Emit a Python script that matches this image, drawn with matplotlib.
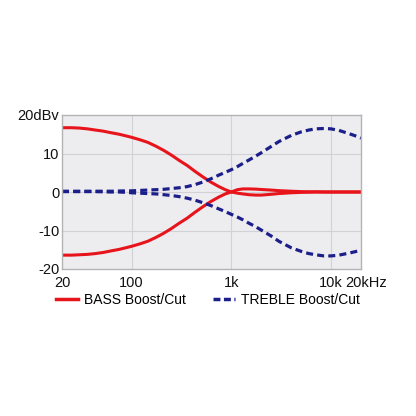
import matplotlib
matplotlib.use("Agg")
import matplotlib.pyplot as plt
from matplotlib.lines import Line2D
from matplotlib.transforms import ScaledTranslation

plt.rcParams['font.family'] = ['Liberation Sans', 'DejaVu Sans']

# frequency points (Hz)
freq = [20, 25, 30, 36, 43, 52, 62, 75, 90, 100,
        120, 145, 175, 210, 250, 300, 360, 430, 520, 620,
        750, 870, 1000, 1150, 1300, 1500, 1750, 2000, 2500, 3000,
        4000, 5000, 6000, 7000, 8500, 10000, 12000, 15000, 17500, 20000]
bass_boost = [16.7, 16.7, 16.6, 16.4, 16.1, 15.8, 15.4, 15.0, 14.5, 14.2,
              13.6, 12.9, 11.9, 10.8, 9.6, 8.2, 6.9, 5.4, 3.9, 2.6,
              1.4, 0.6, 0.0, -0.3, -0.5, -0.7, -0.8, -0.8, -0.6, -0.4,
              -0.2, -0.1, -0.05, 0, 0, 0, 0, 0, 0, 0]
bass_cut = [-16.4, -16.4, -16.3, -16.2, -16.0, -15.7, -15.3, -14.9, -14.4, -14.1,
            -13.5, -12.8, -11.8, -10.7, -9.5, -8.1, -6.8, -5.3, -3.8, -2.5,
            -1.3, -0.5, 0.0, 0.6, 0.8, 0.8, 0.75, 0.65, 0.5, 0.35,
            0.2, 0.1, 0.05, 0.05, 0, 0, 0, 0, 0, 0]
treble_boost = [0.2, 0.2, 0.2, 0.2, 0.2, 0.2, 0.2, 0.25, 0.3, 0.3,
                0.4, 0.5, 0.6, 0.7, 0.9, 1.1, 1.4, 1.9, 2.6, 3.4,
                4.4, 5.1, 5.8, 6.6, 7.4, 8.3, 9.3, 10.2, 11.8, 13.1,
                14.7, 15.6, 16.1, 16.4, 16.5, 16.4, 16.0, 15.2, 14.6, 14.0]
treble_cut = [0.1, 0.1, 0.1, 0.1, 0.1, 0.05, 0.0, 0.0, -0.1, -0.2,
              -0.3, -0.4, -0.5, -0.7, -0.9, -1.2, -1.6, -2.1, -2.8, -3.5,
              -4.4, -5.1, -5.8, -6.5, -7.2, -8.1, -9.0, -9.9, -11.4, -12.8,
              -14.5, -15.4, -16.0, -16.3, -16.6, -16.6, -16.4, -15.9, -15.5, -15.1]

xticks = [20, 100, 1000, 10000, 20000]
xlabels = ['20', '100', '1k', '10k', '20kHz']
yticks = [-20, -10, 0, 10, 20]
ylabels = ['-20', '-10', '0', '10', '20dBv']

red = '#e8141c'
navy = '#1c1f8a'

fig = plt.figure(figsize=(4.16, 4.16), dpi=100)
ax = fig.add_axes([62/416, 1 - 269/416, 299/416, 154/416])
ax.set_facecolor('#ededf0')

ax.plot(freq, bass_boost, color=red, lw=2.2, solid_capstyle='butt')
ax.plot(freq, bass_cut, color=red, lw=2.2, solid_capstyle='butt')
ax.plot(freq, treble_boost, color=navy, lw=2.3, ls=(0, (2.2, 1.3)))
ax.plot(freq, treble_cut, color=navy, lw=2.3, ls=(0, (2.2, 1.3)))

ax.set_xscale('log')
ax.set_xlim(20, 20000)
ax.set_ylim(-20, 20)
ax.set_xticks(xticks)
ax.set_xticklabels(xlabels)
ax.xaxis.set_minor_locator(matplotlib.ticker.NullLocator())
ax.set_yticks(yticks)
ax.set_yticklabels(ylabels)
ax.tick_params(length=0, labelsize=10.5, colors='#111111')
ax.tick_params(axis='x', pad=5)
ax.tick_params(axis='y', pad=2)
# nudge the last x label a bit to the right like the original
lab = ax.get_xticklabels()[-1]
lab.set_transform(lab.get_transform() + ScaledTranslation(5/100, 0, fig.dpi_scale_trans))

for f in [100, 1000, 10000]:
    ax.axvline(f, color='#d2d2d6', lw=0.8, zorder=0)
for v in [-10, 0, 10]:
    ax.axhline(v, color='#d2d2d6', lw=0.8, zorder=0)

for s in ax.spines.values():
    s.set_color('#b4b4b8')
    s.set_linewidth(1)

handles = [Line2D([], [], color=red, lw=2.5),
           Line2D([], [], color=navy, lw=2.5, ls=(0, (2.0, 1.0)))]
fig.legend(handles, ['BASS Boost/Cut', 'TREBLE Boost/Cut'], loc='center',
           bbox_to_anchor=(0.5, 1 - 300/416), ncol=2, frameon=False,
           fontsize=10, handlelength=1.6, handletextpad=0.45, columnspacing=1.9)

fig.savefig('out.png', dpi=100, facecolor='white')
